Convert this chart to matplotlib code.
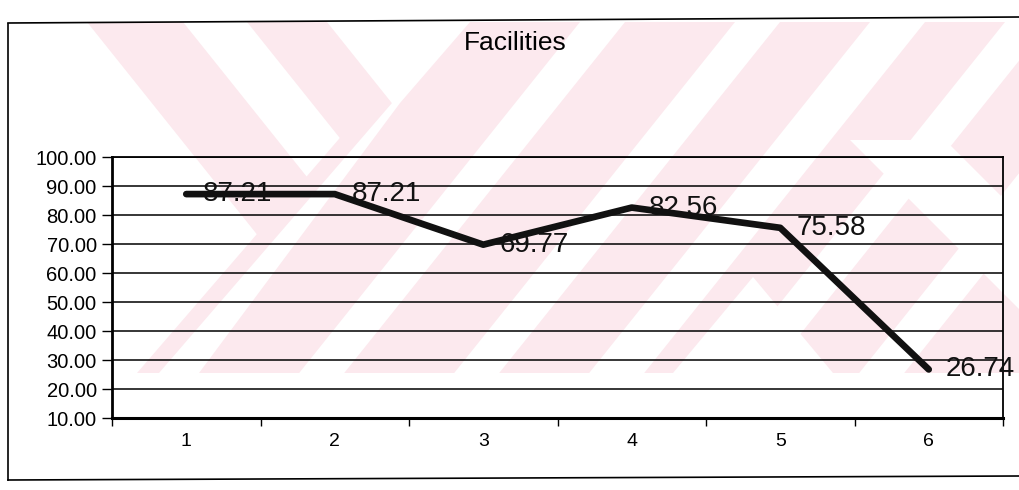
import matplotlib.pyplot as plt
from matplotlib.patches import Polygon, Rectangle
from matplotlib.ticker import FormatStrFormatter, FixedLocator

plt.rcParams['font.family'] = ['Liberation Sans', 'DejaVu Sans']

categorias = ['1', '2', '3', '4', '5', '6']
valores = [87.21, 87.21, 69.77, 82.56, 75.58, 26.74]
titulo = 'Facilities'

W, H = 1019, 490
fig = plt.figure(figsize=(W / 100, H / 100), dpi=100)
fig.patch.set_facecolor('white')

# fondo: marca de agua rosa y marco exterior (en pixeles)
bg = fig.add_axes([0, 0, 1, 1], zorder=0)
bg.set_xlim(0, W)
bg.set_ylim(H, 0)
bg.axis('off')

rosa = '#fce9ee'
y0, y1 = 22, 373
d = 0.8 * (y1 - y0)
clip = Rectangle((60, y0), W - 60, y1 - y0, transform=bg.transData)


def parche(pts, color):
    p = Polygon(pts, color=color, lw=0)
    bg.add_patch(p)
    p.set_clip_path(clip)


# zona "/" y franjas "\" de la esquina superior izquierda
parche([(470, y0), (W + 400, y0), (W + 400, y1), (137, y1), (370, 103), (400, 103)], rosa)
for a, b in [(87, 183), (247, 327)]:
    parche([(a, y0), (b, y0), (b + d, y1), (a + d, y1)], rosa)
# huecos blancos
for a, b in [(580, 625), (735, 780), (870, 925), (1005, 1050), (1140, 1185)]:
    parche([(a, y0), (b, y0), (b - d, y1), (a - d, y1)], 'white')
parche([(392, 103), (400, 103), (199, y1), (159, y1)], 'white')
parche([(753, 277), (833, y1), (673, y1)], 'white')
parche([(850, 140), (945, 140), (1135, 330), (1040, 330)], 'white')

bg.plot([8, 8], [24, 480], color='black', lw=1.2)
bg.plot([8, W], [23, 17], color='black', lw=1.2)
bg.plot([8, W], [480, 476], color='black', lw=1.2)

# grafico
ax = fig.add_axes([112 / W, 1 - 418 / H, (1003 - 112) / W, (418 - 157) / H], zorder=1)
ax.set_facecolor('none')
x = [i + 0.5 for i in range(len(categorias))]
ax.plot(x, valores, color='#111111', lw=4.8, solid_joinstyle='round',
        solid_capstyle='round', zorder=3)
for xi, v in zip(x, valores):
    ax.annotate(f'{v:.2f}', (xi, v), xytext=(12, 0), textcoords='offset points',
                ha='left', va='center', fontsize=20, color='#111111',
                annotation_clip=False, zorder=4)

ax.set_xlim(0, len(categorias))
ax.set_ylim(10, 100)
ax.set_yticks(range(10, 101, 10))
ax.yaxis.set_major_formatter(FormatStrFormatter('%.2f'))
ax.yaxis.grid(True, color='black', lw=1.1)
ax.set_axisbelow(True)
ax.set_xticks(x)
ax.set_xticklabels(categorias)
ax.xaxis.set_minor_locator(FixedLocator(range(len(categorias) + 1)))
ax.tick_params(axis='x', which='major', length=0, pad=11, labelsize=14)
ax.tick_params(axis='x', which='minor', length=6, width=1, direction='out')
ax.tick_params(axis='y', length=7, width=1, pad=4, labelsize=14.5)
for sp in ax.spines.values():
    sp.set_color('black')
    sp.set_linewidth(1.3)
ax.spines['left'].set_linewidth(2)
ax.spines['bottom'].set_linewidth(2.2)

fig.text(515 / W, 1 - 43 / H, titulo, ha='center', va='center', fontsize=19)

fig.savefig('out.png', dpi=100)
